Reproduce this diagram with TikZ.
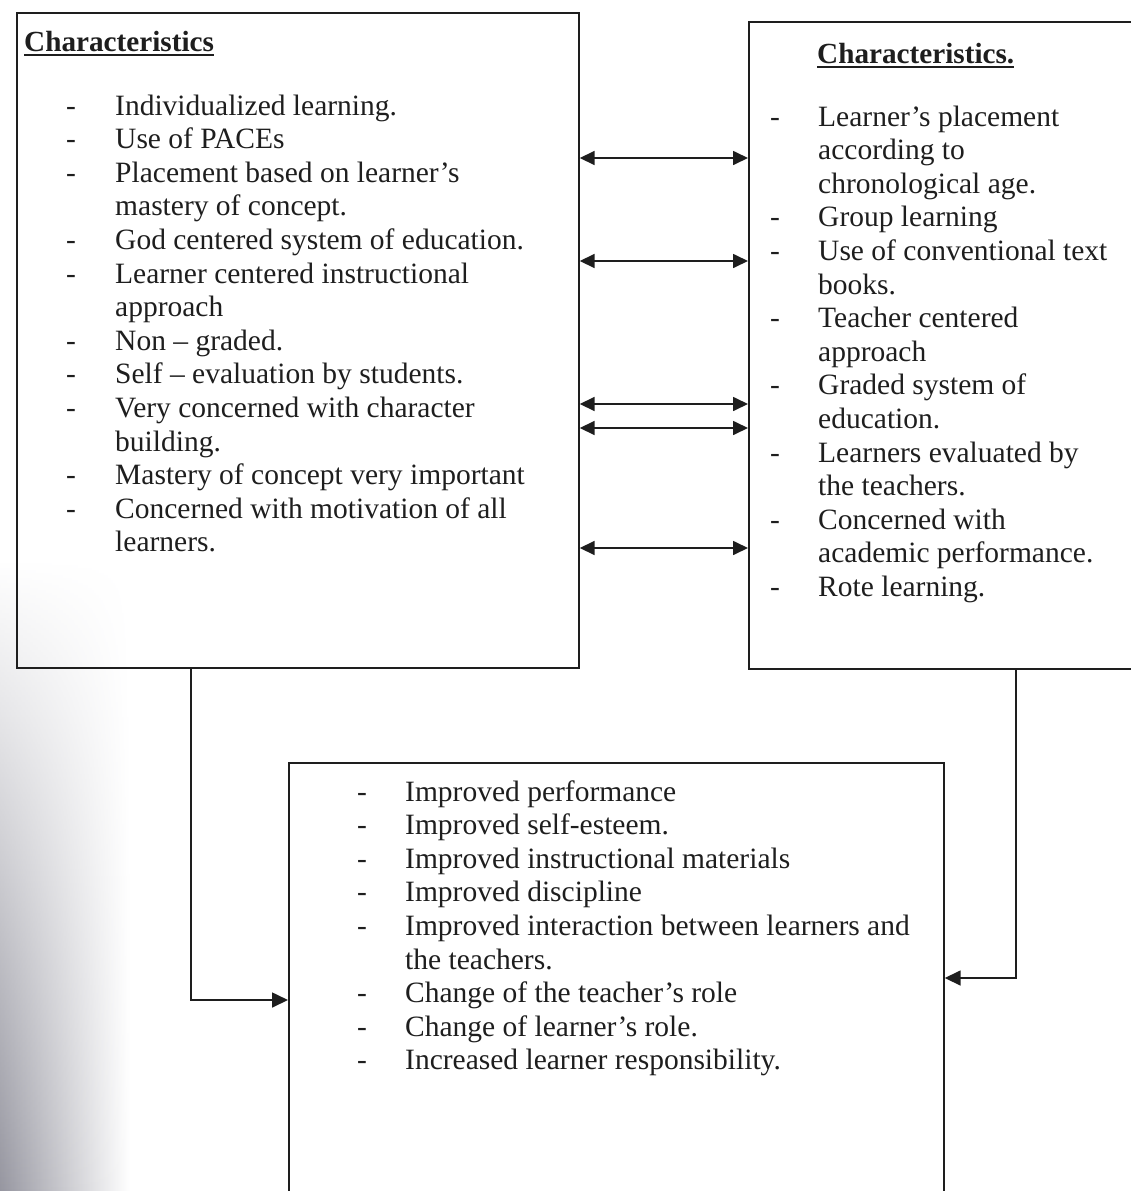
\documentclass[tikz,border=0pt]{standalone}
\usepackage{fontspec}
\setmainfont{Liberation Serif}
\usetikzlibrary{arrows.meta,calc,fadings}
\definecolor{ink}{RGB}{30,30,30}
\definecolor{scan}{RGB}{150,150,160}
\begin{document}
\begin{tikzpicture}[x=1pt,y=-1pt,
  boxnode/.style={draw=ink, line width=1.7pt, inner sep=0pt, anchor=north west, rectangle},
  txt/.style={anchor=base west, inner sep=0pt, text=ink, font=\fontsize{29.5}{33.6}\selectfont},
  headtxt/.style={txt, font=\fontsize{29.2}{33.6}\selectfont\bfseries},
  uline/.style={draw=ink, line width=2pt},
  link/.style={draw=ink, line width=1.7pt},
  arr/.style={link, -{Triangle[length=16pt,width=15pt]}},
  dblarr/.style={link, {Triangle[length=15pt,width=14pt]}-{Triangle[length=15pt,width=14pt]}}]
\useasboundingbox (0,0) rectangle (1131,1191);
\clip (0,0) rectangle (1131,1191);
% scan shading on the left margin
\shade[left color=scan, right color=white, path fading=north] (0,560) rectangle (130,1191);

% boxes
\node[boxnode, minimum width=562pt, minimum height=655pt] (L) at (16,12) {};
\node[boxnode, minimum width=400pt, minimum height=647pt] (R) at (748,21) {};
\node[boxnode, minimum width=655pt, minimum height=450pt] (B) at (288,762) {};

% headings
\node[headtxt] (hL) at (24,51) {Characteristics};
\node[headtxt] (hR) at (817,63) {Characteristics.};
\draw[uline] ($(hL.base west)+(0,4)$) -- ($(hL.base east)+(0,4)$);
\draw[uline] ($(hR.base west)+(0,4)$) -- ($(hR.base east)+(0,4)$);

% left box text
\node[txt] (l0) at (115,115) {Individualized learning.};
\node[txt] (l1) at (115,148.6) {Use of PACEs};
\node[txt] (l2) at (115,182.2) {Placement based on learner’s};
\node[txt] (l3) at (115,215.8) {mastery of concept.};
\node[txt] (l4) at (115,249.4) {God centered system of education.};
\node[txt] (l5) at (115,283) {Learner centered instructional};
\node[txt] (l6) at (115,316.6) {approach};
\node[txt] (l7) at (115,350.2) {Non – graded.};
\node[txt] (l8) at (115,383.8) {Self – evaluation by students.};
\node[txt] (l9) at (115,417.4) {Very concerned with character};
\node[txt] (l10) at (115,451) {building.};
\node[txt] (l11) at (115,484.6) {Mastery of concept very important};
\node[txt] (l12) at (115,518.2) {Concerned with motivation of all};
\node[txt] (l13) at (115,551.8) {learners.};
\foreach \i in {0,1,2,4,5,7,8,9,11,12}
  \node[txt] (dl\i) at (66,{115+33.6*\i}) {-};

% right box text
\node[txt] (r0) at (818,126) {Learner’s placement};
\node[txt] (r1) at (818,159.6) {according to};
\node[txt] (r2) at (818,193.2) {chronological age.};
\node[txt] (r3) at (818,226.8) {Group learning};
\node[txt] (r4) at (818,260.4) {Use of conventional text};
\node[txt] (r5) at (818,294) {books.};
\node[txt] (r6) at (818,327.6) {Teacher centered};
\node[txt] (r7) at (818,361.2) {approach};
\node[txt] (r8) at (818,394.8) {Graded system of};
\node[txt] (r9) at (818,428.4) {education.};
\node[txt] (r10) at (818,462) {Learners evaluated by};
\node[txt] (r11) at (818,495.6) {the teachers.};
\node[txt] (r12) at (818,529.2) {Concerned with};
\node[txt] (r13) at (818,562.8) {academic performance.};
\node[txt] (r14) at (818,596.4) {Rote learning.};
\foreach \i in {0,3,4,6,8,10,12,14}
  \node[txt] (dr\i) at (770,{126+33.6*\i}) {-};

% bottom box text
\node[txt] (b0) at (405,801) {Improved performance};
\node[txt] (b1) at (405,834.6) {Improved self-esteem.};
\node[txt] (b2) at (405,868.2) {Improved instructional materials};
\node[txt] (b3) at (405,901.8) {Improved discipline};
\node[txt] (b4) at (405,935.4) {Improved interaction between learners and};
\node[txt] (b5) at (405,969) {the teachers.};
\node[txt] (b6) at (405,1002.6) {Change of the teacher’s role};
\node[txt] (b7) at (405,1036.2) {Change of learner’s role.};
\node[txt] (b8) at (405,1069.8) {Increased learner responsibility.};
\foreach \i in {0,1,2,3,4,6,7,8}
  \node[txt] (db\i) at (357,{801+33.6*\i}) {-};

% double arrows between the boxes
\foreach \y [count=\k] in {158,261,404,428,548} {
  \coordinate (a\k) at (0,\y);
  \draw[dblarr] (L.east |- a\k) -- (R.west |- a\k);
}

% connectors to the bottom box
\coordinate (c1) at (191,1000);
\coordinate (c2) at (1016,978);
\draw[arr] (L.south -| c1) |- (B.west |- c1);
\draw[arr] (R.south -| c2) |- (B.east |- c2);
\end{tikzpicture}
\end{document}
